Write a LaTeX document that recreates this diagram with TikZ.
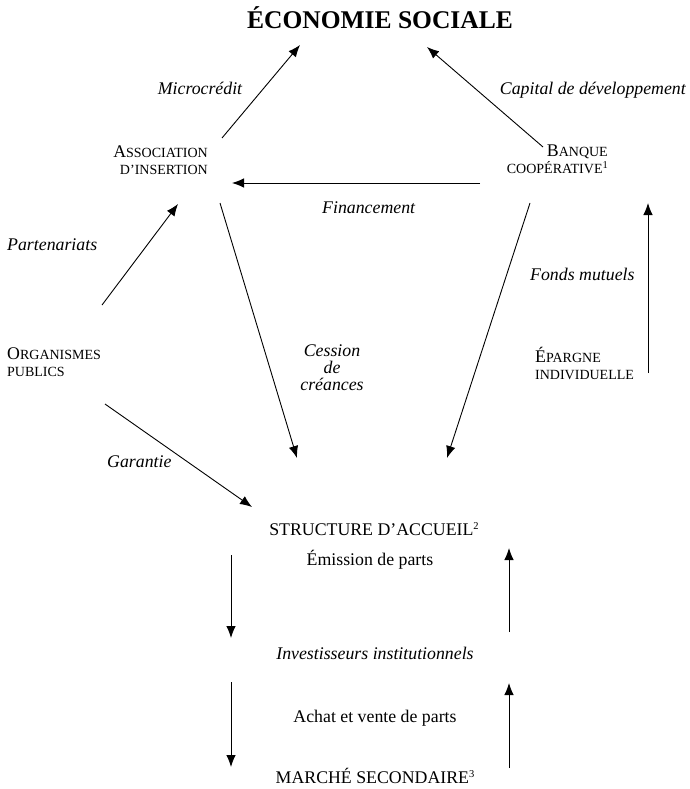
\documentclass[tikz,border=0pt]{standalone}
\usepackage{fontspec}
\setmainfont{Liberation Serif}
\usepackage{tikz}
\usetikzlibrary{arrows.meta,positioning,calc}
\newcommand{\bodysize}{\fontsize{17.8pt}{17pt}\selectfont}
\newcommand{\smallcap}{\fontsize{14pt}{16pt}\selectfont}
\newcommand{\fakesc}[2]{#1{\smallcap #2}}
\newcommand{\noteref}[1]{\raisebox{0.7ex}{\fontsize{10.5pt}{10pt}\selectfont #1}}
\tikzset{%
  % node classes
  actor/.style={font=\bodysize, inner sep=0pt},
  flowlabel/.style={font=\bodysize\itshape, inner sep=0pt},
  headline/.style={font=\fontsize{25.5pt}{30pt}\selectfont\bfseries, inner sep=0pt},
  % edge styles
  flow/.style={-{Latex[length=12pt,width=9.5pt]}, line width=0.9pt},
}

\begin{document}
\begin{tikzpicture}[x=1pt, y=-1pt]
  \useasboundingbox (0,0) rectangle (689,789);

  % Top
  \node[headline, anchor=base] (eco) at (380,28.5) {ÉCONOMIE SOCIALE};

  % Actors
  \node[actor, align=right, anchor=east] (assoc) at (208,160)
    {\fakesc{A}{SSOCIATION}\\{\smallcap D’INSERTION}};
  \node[actor, align=right, anchor=east] (banque) at (608,159)
    {\fakesc{B}{ANQUE}\\{\smallcap COOPÉRATIVE\noteref{1}}};
  \node[actor, align=left, anchor=west] (orgpub) at (7,362)
    {\fakesc{O}{RGANISMES}\\{\smallcap PUBLICS}};
  \node[actor, align=left, anchor=west] (epargne) at (535,363)
    {\fakesc{É}{PARGNE}\\{\smallcap INDIVIDUELLE}};
  \node[actor, anchor=base] (accueil) at (374,535) {STRUCTURE D’ACCUEIL\noteref{2}};
  \node[flowlabel, anchor=base] (invest) at (375,659) {Investisseurs institutionnels};
  \node[actor, anchor=base] (marche) at (375,783) {MARCHÉ SECONDAIRE\noteref{3}};

  % Flow labels
  \node[flowlabel, anchor=base] (microcredit) at (200,95) {Microcrédit};
  \node[flowlabel, anchor=base east] (capital) at (686,95) {Capital de développement};
  \node[flowlabel, anchor=base west] (financement) at (322,213) {Financement};
  \node[flowlabel, anchor=base west] (partenariats) at (7,250) {Partenariats};
  \node[flowlabel, anchor=base west] (fonds) at (530,280) {Fonds mutuels};
  \node[flowlabel, align=center] (cession) at (332,368) {Cession\\de\\créances};
  \node[flowlabel, anchor=base west] (garantie) at (107,467) {Garantie};
  \node[actor, anchor=base] (emission) at (370,565) {Émission de parts};
  \node[actor, anchor=base] (achat) at (375,722) {Achat et vente de parts};

  % Links
  \draw[flow] ([shift={(14,-22)}]assoc.east) -- ([shift={(-80,16.5)}]eco.base);
  \draw[flow] ([shift={(-65,-12)}]banque.east) -- ([shift={(47,18.5)}]eco.base);
  \draw[flow] ([shift={(-128,24)}]banque.east) -- ([shift={(24,23)}]assoc.east);
  \draw[flow] ([shift={(95,-57)}]orgpub.west) -- ([shift={(-30,44)}]assoc.east);
  \draw[flow] ([shift={(98,42)}]orgpub.west) -- ([shift={(-122,-28)}]accueil.base);
  \draw[flow] ([shift={(12,43)}]assoc.east) -- ([shift={(-77,-77)}]accueil.base);
  \draw[flow] ([shift={(-78,44)}]banque.east) -- ([shift={(73,-77)}]accueil.base);
  \draw[flow] ([shift={(113,10)}]epargne.west) -- ([shift={(40,44)}]banque.east);

  % Parts
  \draw[flow] ([shift={(-143,20)}]accueil.base) -- ([shift={(-144,-21)}]invest.base);
  \draw[flow] ([shift={(134,-27)}]invest.base) -- ([shift={(135,13)}]accueil.base);
  \draw[flow] ([shift={(-144,23)}]invest.base) -- ([shift={(-144,-16)}]marche.base);
  \draw[flow] ([shift={(134,-15)}]marche.base) -- ([shift={(134,24)}]invest.base);

\end{tikzpicture}
\end{document}
